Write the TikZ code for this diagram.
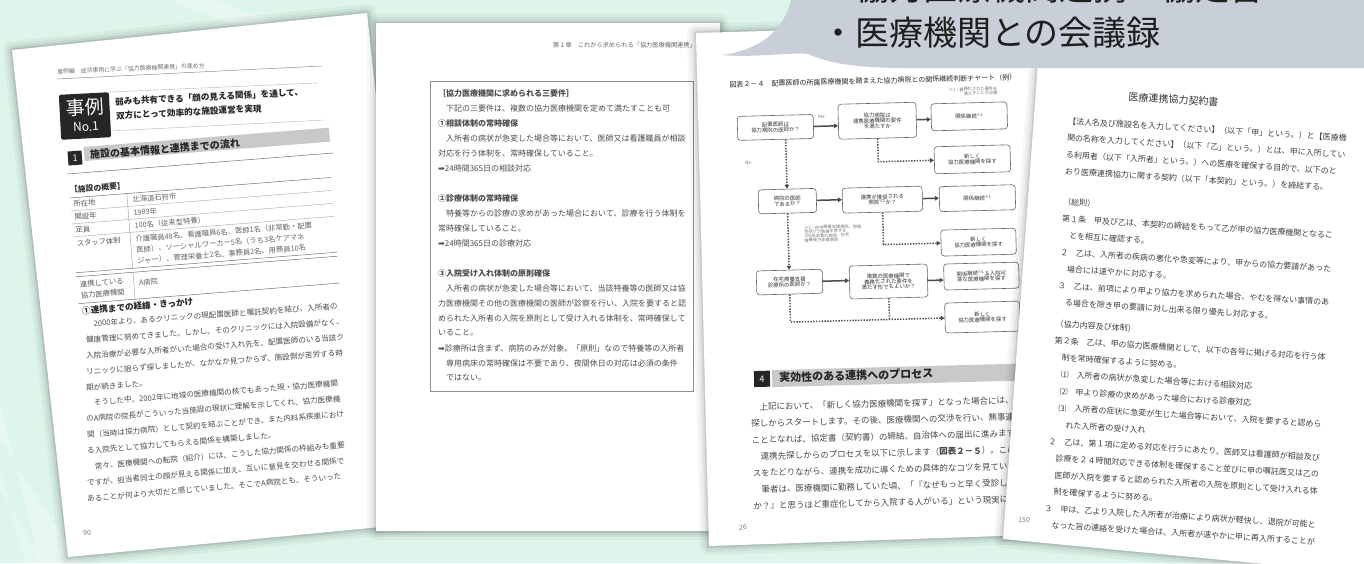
\documentclass[tikz,border=0pt]{standalone}
\usepackage{fontspec}
\setmainfont{Noto Sans CJK JP}
\newfontfamily\dejavu{DejaVu Sans}
\usetikzlibrary{arrows.meta}
\newcommand\myfs[1]{\fontsize{#1}{#1}\selectfont}
\newcommand\myarrow{{\dejavu ➡}}
\newcommand\halo[1]{\foreach \w/\o in {18/0.035,12/0.045,7/0.06,3/0.09}{\draw[line width=\w pt, black, opacity=\o, line join=round] #1;}}
\definecolor{bgmint}{HTML}{DDF5EA}
\definecolor{bubblec}{HTML}{C8CFD9}
\definecolor{ink}{HTML}{3A3A3A}
\definecolor{bandc}{HTML}{C9C9C9}
\begin{document}
\begin{tikzpicture}[x=1pt,y=-1pt,
  txt/.style={anchor=west, inner sep=0pt, text=ink},
  p1body/.style={txt, font=\myfs{7.6}, text=black!70},
  p2body/.style={txt, font=\myfs{8}, text=black!70},
  p3body/.style={txt, font=\myfs{8.5}, text=black!72},
  p4body/.style={txt, font=\myfs{8}, text=black!75},
  chartbox/.style={draw=black!60, line width=0.6pt, rounded corners=3pt, fill=white, align=center, inner sep=1pt, font=\myfs{5.4}, text=black!80},
  solidarr/.style={line width=1.5pt, draw=black!70, -{Triangle[length=4pt,width=4.5pt]}},
  dotline/.style={line width=1.5pt, draw=black!70, dash pattern=on 1.4pt off 1.4pt},
  dotarr/.style={dotline, -{Triangle[length=4pt,width=4.5pt]}},
]
\useasboundingbox (0,0) rectangle (1364,563);
\fill[bgmint] (0,0) rectangle (1364,563);
\fill[white, opacity=0.35] (170,0) -- (215,0) -- (330,45) -- (285,45) -- cycle;
\fill[white, opacity=0.3] (0,400) -- (0,440) -- (80,563) -- (40,563) -- cycle;
\fill[white, opacity=0.25] (0,470) -- (0,490) -- (45,563) -- (25,563) -- cycle;

% ================= page 1
\halo{(12,50) -- (367,13) -- (422,523) -- (68,557) -- cycle}
\fill[white] (12,50) -- (367,13) -- (422,523) -- (68,557) -- cycle;
\node[txt, rotate=2.5, text=black!55, font=\myfs{5.9}] (h1) at (57,72) {事例編　成功事例に学ぶ「協力医療機関連携」の進め方};
\draw[black!45, line width=0.5pt] (57,79) -- (322,66);
\node[fill=black!85, rounded corners=2pt, rotate=3, minimum width=50, minimum height=45, inner sep=0] (jbox) at (85,116) {};
\node[rotate=3, inner sep=0, text=white, font=\myfs{19}] (jt1) at (85,107) {事例};
\node[rotate=3, inner sep=0, text=white, font=\myfs{12}] (jt2) at (86,127) {No.1};
\draw[black!45, dash pattern=on 0.8pt off 0.8pt, line width=0.5pt] (110,92) -- (317,83);
\node[txt, rotate=3, font=\myfs{8.6}\bfseries, text=black!85] (t1) at (115,102) {弱みも共有できる「顔の見える関係」を通して、};
\node[txt, rotate=3, font=\myfs{8.6}\bfseries, text=black!85] (t2) at (116,116) {双方にとって効率的な施設運営を実現};
\draw[black!45, dash pattern=on 0.8pt off 0.8pt, line width=0.5pt] (110,131) -- (325,120);
\node[fill=bandc, rotate=4.5, anchor=west, minimum width=246, minimum height=14, inner sep=0] (band1) at (84,154) {};
\node[fill=black!85, text=white, rotate=4.5, minimum size=14, inner sep=0, font=\myfs{9}] (n1) at (75,158) {1};
\node[txt, rotate=4.5, font=\myfs{10}\bfseries, text=black!85] (hd1) at (90,155) {施設の基本情報と連携までの流れ};
\draw[black!50, line width=0.6pt] (67,174) -- (333,153);
\node[txt, rotate=4.5, font=\myfs{7.8}\bfseries, text=black!80] (ov) at (70,190) {【施設の概要】};
\begin{scope}[shift={(70,198)}, rotate=4.5, transform shape]
  \draw[black!55, line width=0.5pt] (0,0) -- (262,0);
  \draw[black!35, line width=0.4pt] (0,13) -- (262,13) (0,26) -- (262,26) (0,39) -- (262,39);
  \draw[black!55, line width=0.5pt] (0,75) -- (262,75) (0,79) -- (262,79) (0,106) -- (262,106);
  \draw[black!40, line width=0.4pt] (57,0) -- (57,75) (57,79) -- (57,106);
  \node[txt, font=\myfs{7.3}, text=black!65] (c1) at (3,6.5) {所在地};
  \node[txt, font=\myfs{7.3}, text=black!65] (c2) at (3,19.5) {開設年};
  \node[txt, font=\myfs{7.3}, text=black!65] (c3) at (3,32.5) {定員};
  \node[txt, font=\myfs{7.3}, text=black!65] (c4) at (3,46) {スタッフ体制};
  \node[txt, font=\myfs{7.3}, text=black!65] (c5) at (3,87) {連携している};
  \node[txt, font=\myfs{7.3}, text=black!65] (c6) at (3,98) {協力医療機関};
  \node[txt, font=\myfs{7.3}, text=black!60] (v1) at (62,6.5) {北海道石狩市};
  \node[txt, font=\myfs{7.3}, text=black!60] (v2) at (62,19.5) {1989年};
  \node[txt, font=\myfs{7.3}, text=black!60] (v3) at (62,32.5) {100名（従来型特養）};
  \node[txt, font=\myfs{7.3}, text=black!60] (v4) at (62,46) {介護職員48名、看護職員6名、医師1名（非常勤・配置};
  \node[txt, font=\myfs{7.3}, text=black!60] (v5) at (62,57) {医師）、ソーシャルワーカー5名（うち3名ケアマネ};
  \node[txt, font=\myfs{7.3}, text=black!60] (v6) at (62,68) {ジャー）、管理栄養士2名、事務員2名、用務員10名};
  \node[txt, font=\myfs{7.3}, text=black!60] (v7) at (62,90) {A病院};
\end{scope}
\node[txt, rotate=4.8, font=\myfs{8.6}\bfseries, text=black!85] (s1) at (82,311) {①連携までの経緯・きっかけ};
\node[p1body, rotate=4.0] (b1) at (86,324) {　2000年より、あるクリニックの現配置医師と嘱託契約を結び、入所者の};
\node[p1body, rotate=4.1] (b2) at (86,340) {健康管理に努めてきました。しかし、そのクリニックには入院設備がなく、};
\node[p1body, rotate=4.2] (b3) at (86,356) {入院治療が必要な入所者がいた場合の受け入れ先を、配置医師のいる当該ク};
\node[p1body, rotate=4.3] (b4) at (86,372) {リニックに限らず探しましたが、なかなか見つからず、施設側が苦労する時};
\node[p1body, rotate=4.4] (b5) at (86,388) {期が続きました。};
\node[p1body, rotate=4.5] (b6) at (86,403) {　そうした中、2002年に地域の医療機関の核でもあった現・協力医療機関};
\node[p1body, rotate=4.6] (b7) at (86,419) {のA病院の院長がこういった当施設の現状に理解を示してくれ、協力医療機};
\node[p1body, rotate=4.7] (b8) at (87,435) {関（当時は協力病院）として契約を結ぶことができ、また内科系疾患におけ};
\node[p1body, rotate=4.8] (b9) at (87,451) {る入院先として協力してもらえる関係を構築しました。};
\node[p1body, rotate=4.9] (b10) at (87,467) {　常々、医療機関への転院（紹介）には、こうした協力関係の枠組みも重要};
\node[p1body, rotate=5.0] (b11) at (87,483) {ですが、担当者同士の顔が見える関係に加え、互いに意見を交わせる関係で};
\node[p1body, rotate=5.1] (b12) at (87,499) {あることが何より大切だと感じていました。そこでA病院とも、そういった};
\node[txt, rotate=5, font=\myfs{7}, text=black!50] (pg1) at (83,533) {90};

% ================= page 2
\halo{(376,23) rectangle (720,531)}
\fill[white] (376,23) rectangle (720,531);
\node[txt, font=\myfs{6.2}, text=black!60] (h2) at (553,45) {第１章　これから求められる「協力医療機関連携」};
\draw[black!45, line width=0.6pt] (430,81) rectangle (693,391);
\node[p2body, font=\myfs{8}\bfseries] (q1) at (438,93) {［協力医療機関に求められる三要件］};
\node[p2body] (q2) at (438,108) {　下記の三要件は、複数の協力医療機関を定めて満たすことも可};
\node[p2body, font=\myfs{8}\bfseries] (q3) at (438,123) {①相談体制の常時確保};
\node[p2body] (q4) at (438,138) {　入所者の病状が急変した場合等において、医師又は看護職員が相談};
\node[p2body] (q5) at (438,153) {対応を行う体制を、常時確保していること。};
\node[p2body] (q6) at (438,168) {\myarrow 24時間365日の相談対応};
\node[p2body, font=\myfs{8}\bfseries] (q7) at (438,198) {②診療体制の常時確保};
\node[p2body] (q8) at (438,213) {　特養等からの診療の求めがあった場合において、診療を行う体制を};
\node[p2body] (q9) at (438,228) {常時確保していること。};
\node[p2body] (q10) at (438,243) {\myarrow 24時間365日の診療対応};
\node[p2body, font=\myfs{8}\bfseries] (q11) at (438,273) {③入院受け入れ体制の原則確保};
\node[p2body] (q12) at (438,288) {　入所者の病状が急変した場合等において、当該特養等の医師又は協};
\node[p2body] (q13) at (438,303) {力医療機関その他の医療機関の医師が診察を行い、入院を要すると認};
\node[p2body] (q14) at (438,318) {められた入所者の入院を原則として受け入れる体制を、常時確保して};
\node[p2body] (q15) at (438,333) {いること。};
\node[p2body] (q16) at (438,348) {\myarrow 診療所は含まず、病院のみが対象。「原則」なので特養等の入所者};
\node[p2body] (q17) at (438,363) {　専用病床の常時確保は不要であり、夜間休日の対応は必須の条件};
\node[p2body] (q18) at (438,378) {　ではない。};

% ================= page 3
\halo{(696,33) -- (1045,23) -- (1058,534) -- (709,546) -- cycle}
\fill[white] (696,33) -- (1045,23) -- (1058,534) -- (709,546) -- cycle;
\begin{scope}[rotate around={1.5:(870,300)}, transform shape]
  \node[txt, font=\myfs{7}, text=black!85] (cap) at (735,81) {図表２－４　配置医師の所属医療機関を踏まえた協力病院との関係継続判断チャート（例）};
  \node[anchor=east, inner sep=0, align=right, font=\myfs{4.2}, text=black!55] (note1) at (1003,94) {※1：義務化された要件を\\満たすことが必要};
  \node[chartbox, minimum width=76, minimum height=24] (fa) at (780,125) {配置医師は\\協力病院の医師か？};
  \node[chartbox, minimum width=78, minimum height=35] (fb) at (882,121) {協力病院は\\連携医療機関の要件\\を満たすか};
  \node[chartbox, minimum width=76, minimum height=27] (fc) at (974,119) {関係継続\textsuperscript{※1}};
  \node[chartbox, minimum width=76, minimum height=27] (fd) at (976,162) {新しく\\協力医療機関を探す};
  \node[chartbox, minimum width=58, minimum height=24] (fe) at (790,199) {病院の医師\\であるか？};
  \node[chartbox, minimum width=80, minimum height=25] (ff) at (885,200) {連携が推奨される\\病院\textsuperscript{※2}か？};
  \node[chartbox, minimum width=76, minimum height=25] (fg) at (980,201) {関係継続\textsuperscript{※1}};
  \node[chartbox, minimum width=75, minimum height=26] (fh) at (980,245) {新しく\\協力医療機関を探す};
  \node[chartbox, minimum width=66, minimum height=24] (fi) at (790,280) {在宅療養支援\\診療所の医師か？};
  \node[chartbox, minimum width=78, minimum height=33] (fj) at (889,282) {複数の医療機関で\\義務化された要件を\\満たす形でもよいか？};
  \node[chartbox, minimum width=75, minimum height=26] (fk) at (982,279) {関係継続\textsuperscript{※1}＆入院可\\能な医療機関を探す};
  \node[chartbox, minimum width=75, minimum height=30] (fl) at (982,320) {新しく\\協力医療機関を探す};
  \draw[solidarr] (fa.east) -- (fa.east -| fb.west);
  \node[inner sep=0, font=\myfs{4.5}, text=black!60] (yes) at (826,116) {Yes};
  \draw[solidarr] (fb.east) -- (fb.east -| fc.west);
  \draw[dotarr] (fb.south) |- (fd.west);
  \draw[dotarr] (fa.south -| fe.north) -- (fe.north);
  \node[inner sep=0, font=\myfs{4.5}, text=black!60] (no) at (752,160) {No};
  \draw[solidarr] (fe.east) -- (fe.east -| ff.west);
  \draw[solidarr] (ff.east) -- (ff.east -| fg.west);
  \draw[dotarr] (ff.south) |- (fh.west);
  \node[anchor=north west, inner sep=0, align=left, font=\myfs{4.2}, text=black!55] (note2) at (806,224) {※2：在宅療養支援病院、地域\\包括ケア病棟を有する\\200床未満の病院、在宅\\療養後方支援病院};
  \draw[dotarr] (fe.south) -- (fi.north);
  \draw[solidarr] (fi.east) -- (fi.east -| fj.west);
  \draw[solidarr] (fj.east) -- (fj.east -| fk.west);
  \draw[dotarr] (fi.south) |- (fl.west);
  \draw[dotline] (fj.south) -- (fj.south |- fl.west);
  % heading 4
  \node[fill=bandc, anchor=west, minimum width=265, minimum height=17, inner sep=0] (band3) at (770,376) {};
  \node[fill=black!85, text=white, minimum size=16, inner sep=0, font=\myfs{9}] (n4) at (760,376) {4};
  \node[txt, font=\myfs{11}\bfseries, text=black!85] (hd3) at (777,375) {実効性のある連携へのプロセス};
  \node[p3body] (r1) at (748,404) {　上記において、「新しく協力医療機関を探す」となった場合には、連携先};
  \node[p3body] (r2) at (748,420.5) {探しからスタートします。その後、医療機関への交渉を行い、無事連携す};
  \node[p3body] (r3) at (748,437) {こととなれば、協定書（契約書）の締結、自治体への届出に進みます。};
  \node[p3body] (r4) at (748,453.5) {　連携先探しからのプロセスを以下に示します（\textbf{図表２－５}）。このプロ};
  \node[p3body] (r5) at (748,470) {スをたどりながら、連携を成功に導くための具体的なコツを見ていきます。};
  \node[p3body] (r6) at (748,486.5) {　筆者は、医療機関に勤務していた頃、「『なぜもっと早く受診しなかった};
  \node[p3body] (r7) at (748,503) {か？』と思うほど重症化してから入院する人がいる」という現実に直面};
  \node[txt, font=\myfs{7}, text=black!50] (pg3) at (733,524) {26};
\end{scope}

% ================= page 4
\halo{(1040,35) -- (1380,55) -- (1380,575) -- (1003,539) -- cycle}
\fill[white] (1040,35) -- (1380,55) -- (1380,575) -- (1003,539) -- cycle;
\begin{scope}[rotate around={-3.5:(1068,121)}, transform shape]
  \node[inner sep=0, font=\myfs{10}, text=black!80] (ttl4) at (1172,93) {医療連携協力契約書};
  \node[p4body] (k1) at (1068,121) {【法人名及び施設名を入力してください】（以下「甲」という。）と【医療機};
  \node[p4body] (k2) at (1068,137.8) {関の名称を入力してください】（以下「乙」という。）とは、甲に入所してい};
  \node[p4body] (k3) at (1068,154.6) {る利用者（以下「入所者」という。）への医療を確保する目的で、以下のと};
  \node[p4body] (k4) at (1068,171.4) {おり医療連携協力に関する契約（以下「本契約」という。）を締結する。};
  \node[p4body] (k5) at (1068,202) {（総則）};
  \node[p4body] (k6) at (1068,218.8) {第１条　甲及び乙は、本契約の締結をもって乙が甲の協力医療機関となるこ};
  \node[p4body] (k7) at (1068,235.6) {　とを相互に確認する。};
  \node[p4body] (k8) at (1068,252.4) {２　乙は、入所者の疾病の悪化や急変等により、甲からの協力要請があった};
  \node[p4body] (k9) at (1068,269.2) {　場合には速やかに対応する。};
  \node[p4body] (k10) at (1068,286) {３　乙は、前項により甲より協力を求められた場合、やむを得ない事情のあ};
  \node[p4body] (k11) at (1068,302.8) {　る場合を除き甲の要請に対し出来る限り優先し対応する。};
  \node[p4body] (k12) at (1068,324) {（協力内容及び体制）};
  \node[p4body] (k13) at (1068,340.8) {第２条　乙は、甲の協力医療機関として、以下の各号に掲げる対応を行う体};
  \node[p4body] (k14) at (1068,357.6) {　制を常時確保するように努める。};
  \node[p4body] (k15) at (1068,374.4) {　⑴　入所者の病状が急変した場合等における相談対応};
  \node[p4body] (k16) at (1068,391.2) {　⑵　甲より診療の求めがあった場合における診療対応};
  \node[p4body] (k17) at (1068,408) {　⑶　入所者の症状に急変が生じた場合等において、入院を要すると認めら};
  \node[p4body] (k18) at (1068,424.8) {　　れた入所者の受け入れ};
  \node[p4body] (k19) at (1068,441.6) {２　乙は、第１項に定める対応を行うにあたり、医師又は看護師が相談及び};
  \node[p4body] (k20) at (1068,458.4) {　診療を２４時間対応できる体制を確保すること並びに甲の嘱託医又は乙の};
  \node[p4body] (k21) at (1068,475.2) {　医師が入院を要すると認められた入所者の入院を原則として受け入れる体};
  \node[p4body] (k22) at (1068,492) {　制を確保するように努める。};
  \node[p4body] (k23) at (1068,508.8) {３　甲は、乙より入院した入所者が治療により病状が軽快し、退院が可能と};
  \node[p4body] (k24) at (1068,525.6) {　なった旨の連絡を受けた場合は、入所者が速やかに甲に再入所することが};
\end{scope}
\node[txt, rotate=-3.5, font=\myfs{7}, text=black!50] (pg4) at (1018,520) {150};

% ================= speech bubble
\fill[bubblec] (792,-5) .. controls (786,30) and (760,50) .. (722,55)
  .. controls (755,58) and (790,52) .. (808,54)
  .. controls (830,64) and (860,68) .. (905,68) -- (1370,68) -- (1370,-5) -- cycle;
\node[anchor=west, inner sep=0, text=black!88, font=\myfs{34}] (bl1) at (821,-12) {・協力医療機関連携・協定書};
\node[anchor=west, inner sep=0, text=black!88, font=\myfs{34}] (bl2) at (821,33) {・医療機関との会議録};
\end{tikzpicture}
\end{document}
